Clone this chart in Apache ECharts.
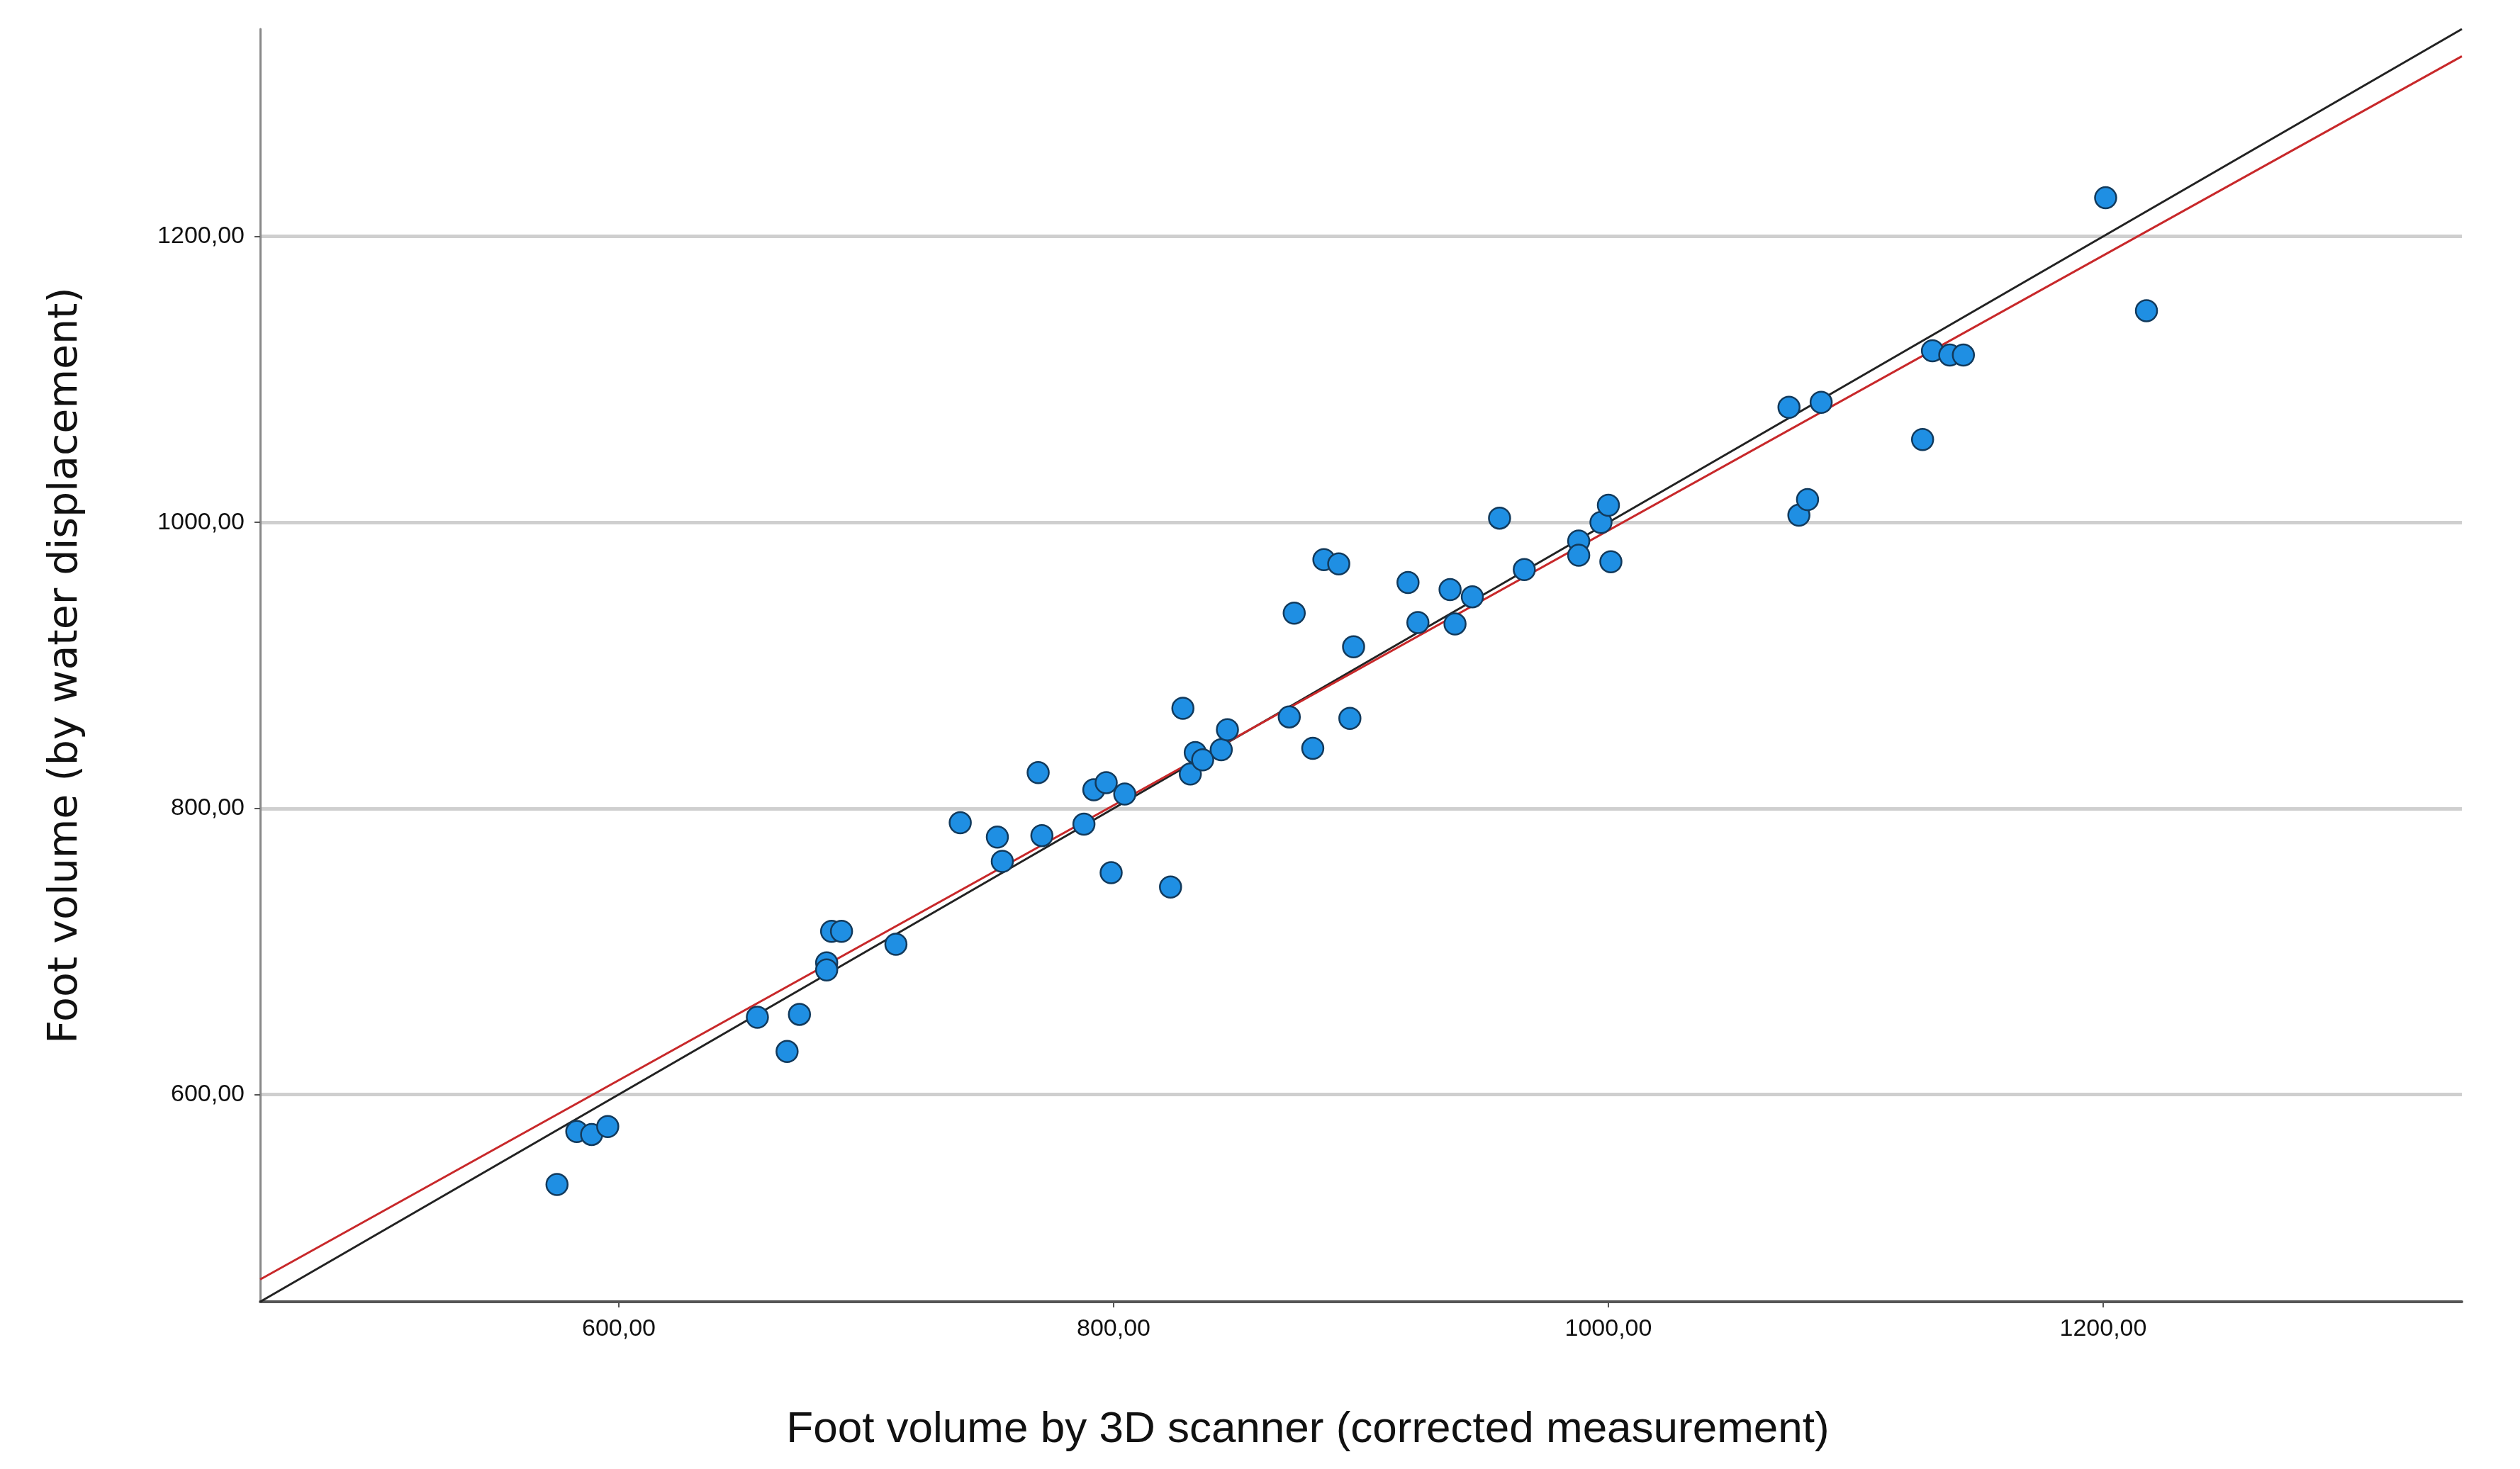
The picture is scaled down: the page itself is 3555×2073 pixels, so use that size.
<!DOCTYPE html>
<html>
<head>
<meta charset="utf-8">
<script src="https://cdn.jsdelivr.net/npm/echarts@6/dist/echarts.min.js"></script>
<style>html,body{margin:0;padding:0;background:#fff}#chart{width:3555px;height:2073px}</style>
</head>
<body>
<div id="chart"></div>
<script>
// scanner (x) vs water displacement (y)
var scanner = [575,583,589,595.5,656,668,673,684,684,686,690,712,738,753,755,769.5,771,788,792,797,799,804.5,823,828,831,833,836,843.5,846,871,873,880.5,885,891,895.5,897,919,923,936,938,945,956,966,988,988,997,1000,1001,1073,1077,1080.5,1086,1127,1131,1138,1143.5,1201,1217.5];
var water = [537,574,572,577.5,654,630,656,692,687,714,714,705,790,780,763,825,781,789,813,818,755,810,745,870,824,839,834,841,855,864,936.5,842,974,971,863,913,958,930,953,929,948,1003,967,987,977,1000,1012,972.5,1080.5,1005,1016,1084,1058,1120,1117,1117,1227,1148];
var tickValues = [600, 800, 1000, 1200];
var axisMin = 455, axisMax = 1345;
var identityLine = [[455, 455], [1345, 1345]];
var fitLine = [[455, 470.6], [1345, 1326]];

var points = scanner.map(function (x, i) { return [x, water[i]]; });
var fmt = function (v) { return v.toFixed(2).replace('.', ','); };

var chart = echarts.init(document.getElementById('chart'));
chart.setOption({
    animation: false,
    backgroundColor: '#fff',
    grid: { left: 367, right: 82, top: 41, bottom: 236 },
    xAxis: {
        type: 'value', min: axisMin, max: axisMax,
        name: 'Foot volume by 3D scanner (corrected measurement)',
        nameLocation: 'middle', nameGap: 150,
        nameTextStyle: { fontFamily: 'Liberation Sans Narrow, Liberation Sans', fontSize: 62, color: '#111', padding: [0, 150, 0, 0] },
        axisLine: { lineStyle: { color: '#555', width: 4 } },
        axisTick: { show: true, length: 8, customValues: tickValues, lineStyle: { color: '#555', width: 2 } },
        axisLabel: { customValues: tickValues, formatter: fmt, fontSize: 34, color: '#111', margin: 22, fontFamily: 'Liberation Sans Narrow, Liberation Sans' },
        splitLine: { show: false }
    },
    yAxis: {
        type: 'value', min: axisMin, max: axisMax,
        name: 'Foot volume (by water displacement)',
        nameLocation: 'middle', nameGap: 245, nameRotate: 90,
        nameTextStyle: { fontFamily: 'DejaVu Sans', fontSize: 57, color: '#111' },
        axisLine: { show: true, lineStyle: { color: '#888', width: 3 } },
        axisTick: { show: true, length: 8, customValues: tickValues, lineStyle: { color: '#555', width: 2 } },
        axisLabel: { customValues: tickValues, formatter: fmt, fontSize: 34, color: '#111', margin: 22, fontFamily: 'Liberation Sans Narrow, Liberation Sans' },
        splitLine: { show: true, lineStyle: { color: '#cfcfcf', width: 5 } }
    },
    series: [
        {
            type: 'line', data: identityLine, symbol: 'none',
            lineStyle: { color: '#222', width: 3 }, z: 2
        },
        {
            type: 'line', data: fitLine, symbol: 'none',
            lineStyle: { color: '#c8282a', width: 3 }, z: 3
        },
        {
            type: 'scatter', data: points, symbolSize: 30,
            itemStyle: { color: '#1f8fe3', borderColor: '#123a5c', borderWidth: 2.5, opacity: 1 }, z: 4
        }
    ]
});
</script>
</body>
</html>
